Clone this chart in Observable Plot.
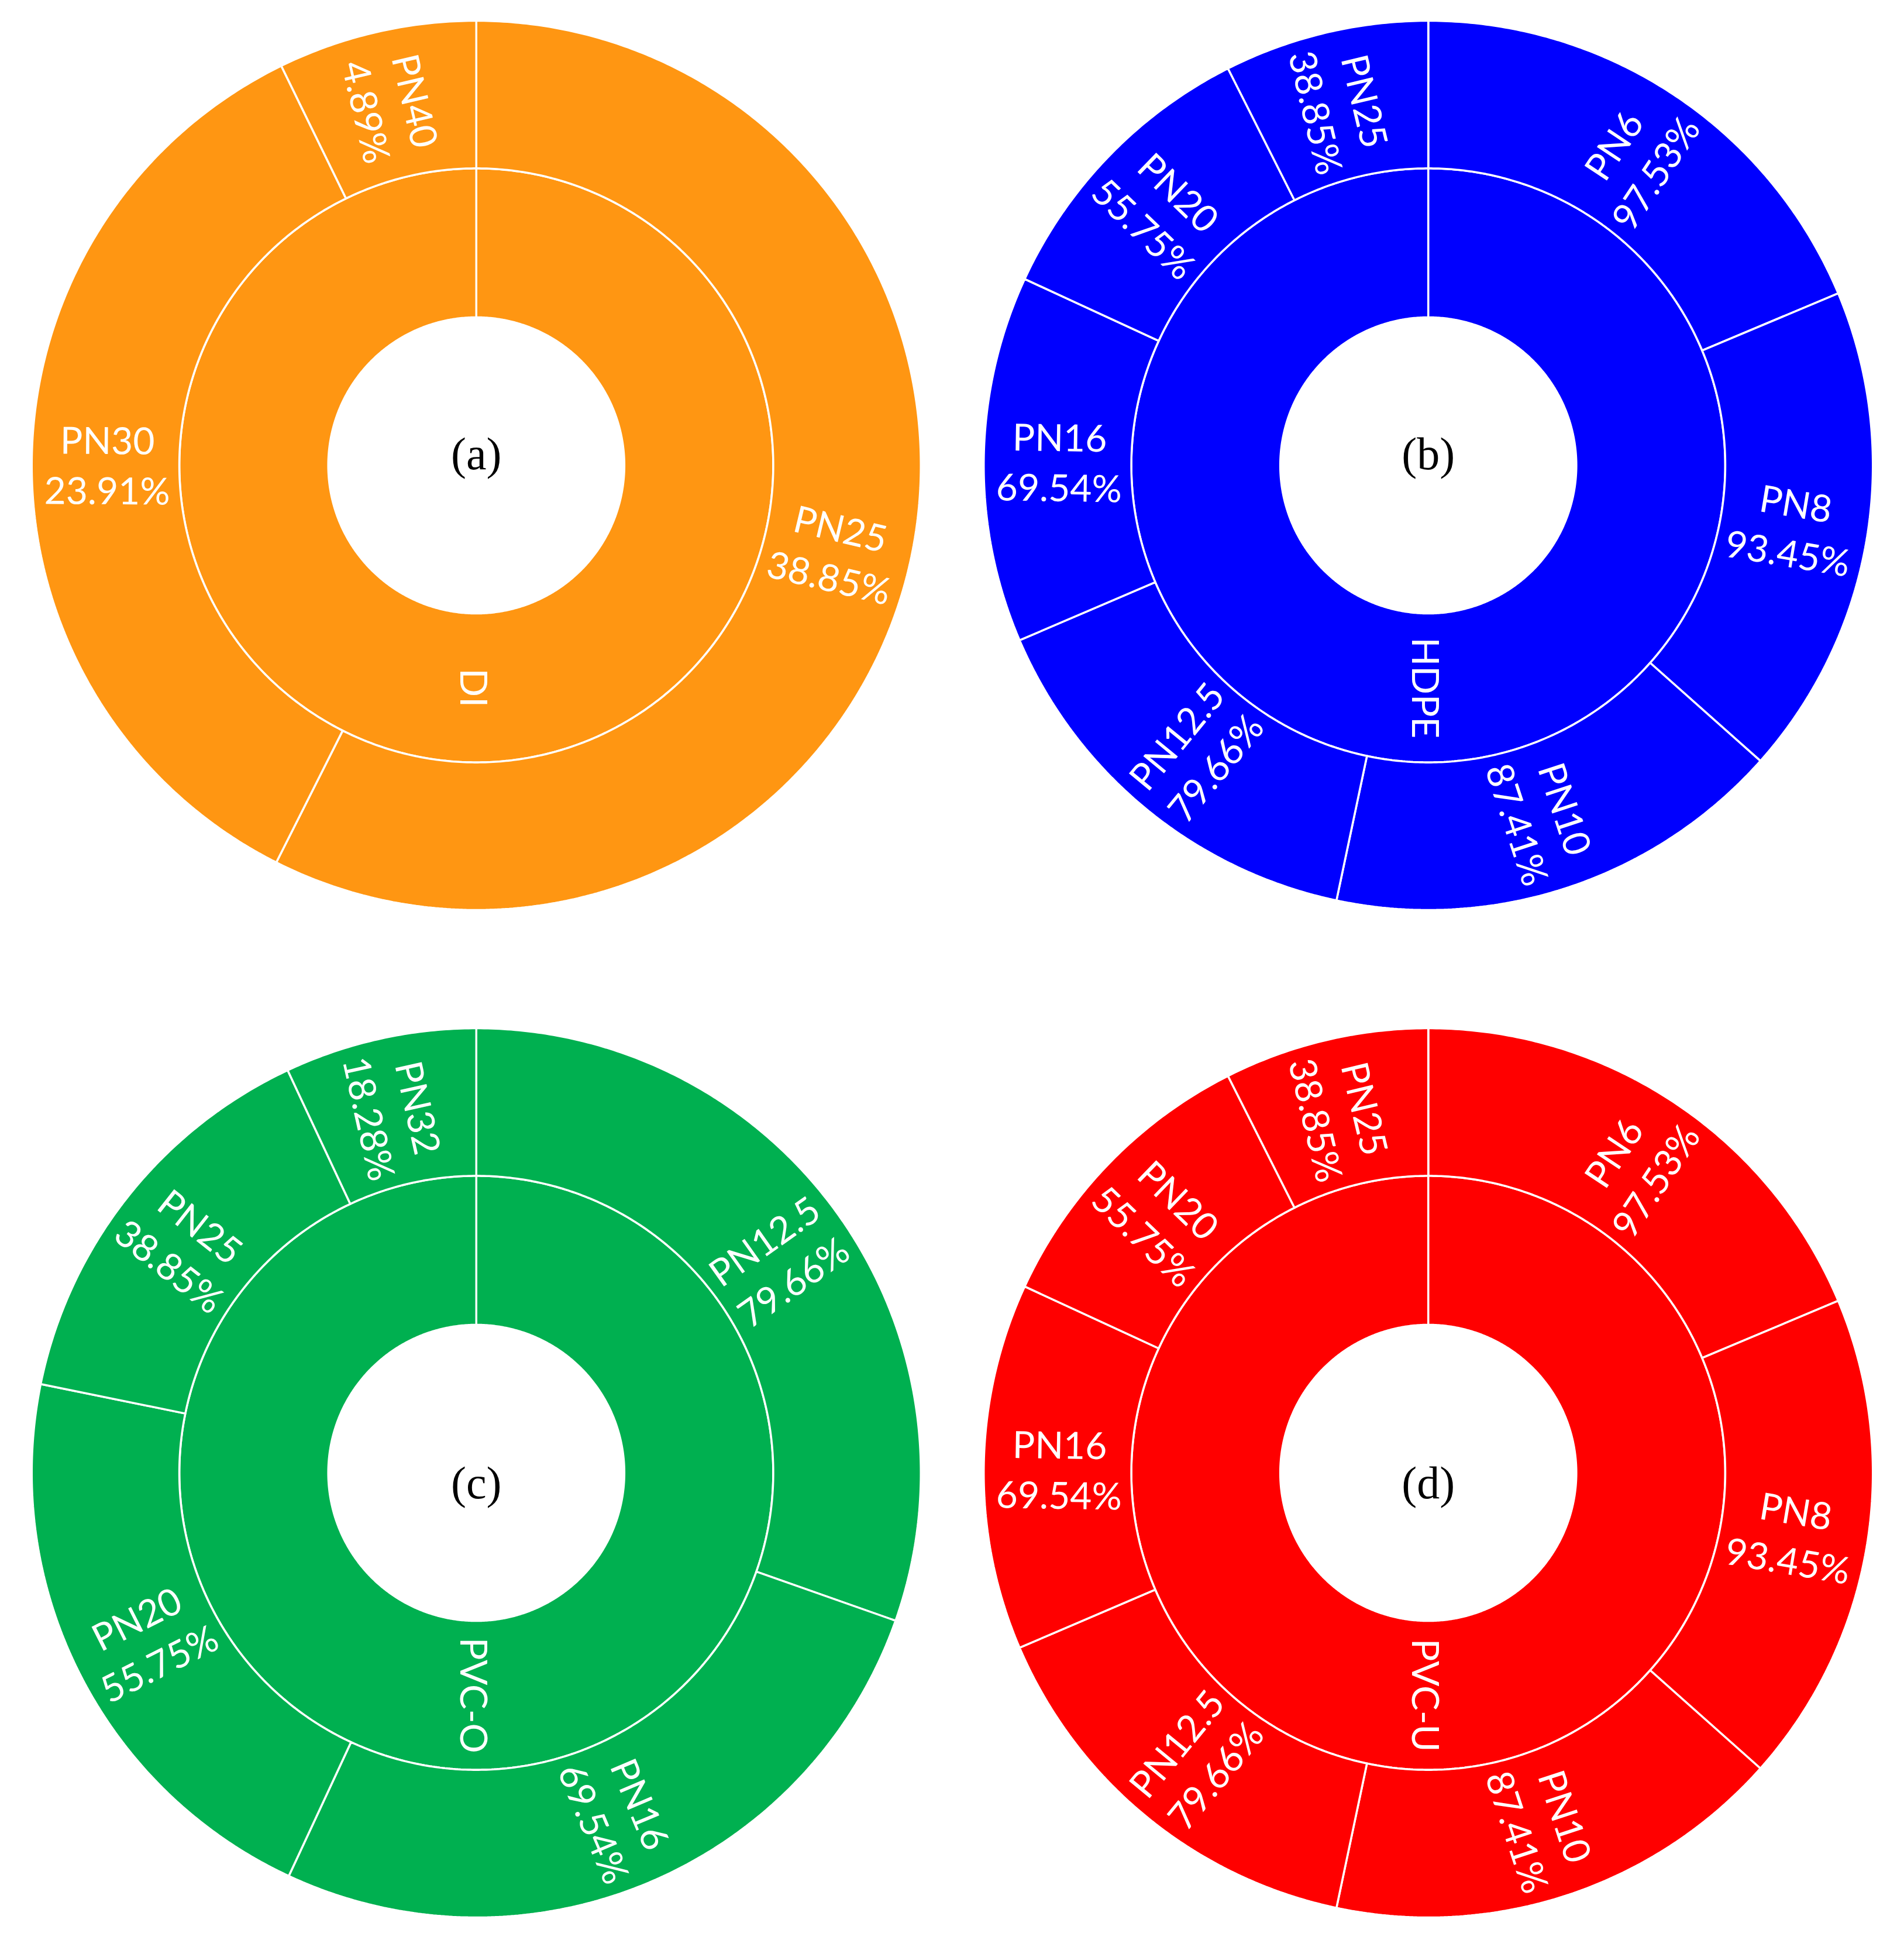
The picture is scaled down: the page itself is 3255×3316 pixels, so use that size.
<!DOCTYPE html>
<html>
<head>
<meta charset="utf-8">
<script src="https://cdn.jsdelivr.net/npm/d3@7"></script>
<script src="https://cdn.jsdelivr.net/npm/@observablehq/plot@0.6"></script>
<style>
  html, body { margin: 0; padding: 0; background: #ffffff; }
  #chart svg { display: block; }
</style>
</head>
<body>
<div id="chart"></div>
<script>
// ---- Data ----
const materials = ["DI", "HDPE", "PVC-O", "PVC-U"];
const panelLabels = ["(a)", "(b)", "(c)", "(d)"];
const materialColors = ["#FF9612", "#0000FF", "#00B050", "#FF0000"];

const diClasses = ["PN25", "PN30", "PN40"];
const diValues = [38.85, 23.91, 4.89];

const hdpeClasses = ["PN6", "PN8", "PN10", "PN12.5", "PN16", "PN20", "PN25"];
const hdpeValues = [97.53, 93.45, 87.41, 79.66, 69.54, 55.75, 38.85];

const pvcoClasses = ["PN12.5", "PN16", "PN20", "PN25", "PN32"];
const pvcoValues = [79.66, 69.54, 55.75, 38.85, 18.28];

const pvcuClasses = ["PN6", "PN8", "PN10", "PN12.5", "PN16", "PN20", "PN25"];
const pvcuValues = [97.53, 93.45, 87.41, 79.66, 69.54, 55.75, 38.85];

const classLists = [diClasses, hdpeClasses, pvcoClasses, pvcuClasses];
const valueLists = [diValues, hdpeValues, pvcoValues, pvcuValues];

// ---- Geometry (ring radii in units of the outer radius) ----
const R_HOLE = 0.333, R_MID = 0.668, R_OUT = 1.0, R_LABEL = 0.83;

function ringPolygon(id, color, col, row, a0, a1, r0, r1) {
  const steps = Math.max(2, Math.ceil((a1 - a0) / (Math.PI / 360)));
  const pts = [];
  for (let k = 0; k <= steps; k++) {
    const a = a0 + (a1 - a0) * k / steps;
    pts.push({id, color, col, row, x: r1 * Math.sin(a), y: r1 * Math.cos(a)});
  }
  for (let k = steps; k >= 0; k--) {
    const a = a0 + (a1 - a0) * k / steps;
    pts.push({id, color, col, row, x: r0 * Math.sin(a), y: r0 * Math.cos(a)});
  }
  pts.push({...pts[0]});
  return pts;
}

const pie = d3.pie().sort(null).value(d => d.value);
const polygons = [];
const labels = [];
const centers = [];

materials.forEach((m, i) => {
  const col = i % 2, row = Math.floor(i / 2);
  const color = materialColors[i];
  // inner ring: the material as a whole
  polygons.push(...ringPolygon(`${m}-inner`, color, col, row, 0, 2 * Math.PI, R_HOLE, R_MID));
  labels.push({col, row, x: 0, y: -(R_HOLE + R_MID) / 2, text: m, rotate: 90});
  centers.push({col, row, x: 0, y: 0, text: panelLabels[i]});
  // outer ring: pressure classes
  const arcs = pie(classLists[i].map((c, j) => ({cls: c, value: valueLists[i][j]})));
  arcs.forEach((a, j) => {
    polygons.push(...ringPolygon(`${m}-${j}`, color, col, row, a.startAngle, a.endAngle, R_MID, R_OUT));
    const mid = (a.startAngle + a.endAngle) / 2;
    const deg = mid * 180 / Math.PI;
    labels.push({
      col, row,
      x: R_LABEL * Math.sin(mid),
      y: R_LABEL * Math.cos(mid),
      text: `${a.data.cls}\n${a.data.value.toFixed(2)}%`,
      rotate: deg <= 180 ? deg - 90 : deg - 270
    });
  });
});

const W = 3255, H = 3316;
const PX_PER_UNIT = 760;
const xH = (W / 2) / 2 / PX_PER_UNIT;
const yH = 795 / PX_PER_UNIT;

const chart = Plot.plot({
  width: W,
  height: H,
  marginTop: 0,
  marginLeft: 0,
  marginRight: 0,
  marginBottom: 4,
  style: {background: "#ffffff"},
  x: {domain: [-xH, xH], axis: null},
  y: {domain: [-yH, yH], axis: null},
  fx: {axis: null, paddingInner: 0, paddingOuter: 0, round: false},
  fy: {axis: null, paddingInner: 0.0767, paddingOuter: 0, round: false},
  marks: [
    Plot.line(polygons, {
      x: "x", y: "y", z: "id", fill: "color",
      fx: "col", fy: "row",
      stroke: "#ffffff", strokeWidth: 3.5, strokeLinejoin: "miter"
    }),
    Plot.text(labels, {
      x: "x", y: "y", text: "text", rotate: "rotate",
      fx: "col", fy: "row",
      fill: "#ffffff", fontFamily: "Lato", fontSize: 64, lineHeight: 1.34
    }),
    Plot.text(centers.filter(d => d.row === 0), {
      x: "x", y: "y", text: "text",
      fx: "col", fy: "row", dy: -18,
      fill: "#000000", fontFamily: "Liberation Serif", fontSize: 78
    }),
    Plot.text(centers.filter(d => d.row === 1), {
      x: "x", y: "y", text: "text",
      fx: "col", fy: "row", dy: 19,
      fill: "#000000", fontFamily: "Liberation Serif", fontSize: 78
    })
  ]
});

document.getElementById("chart").appendChild(chart);
</script>
</body>
</html>
